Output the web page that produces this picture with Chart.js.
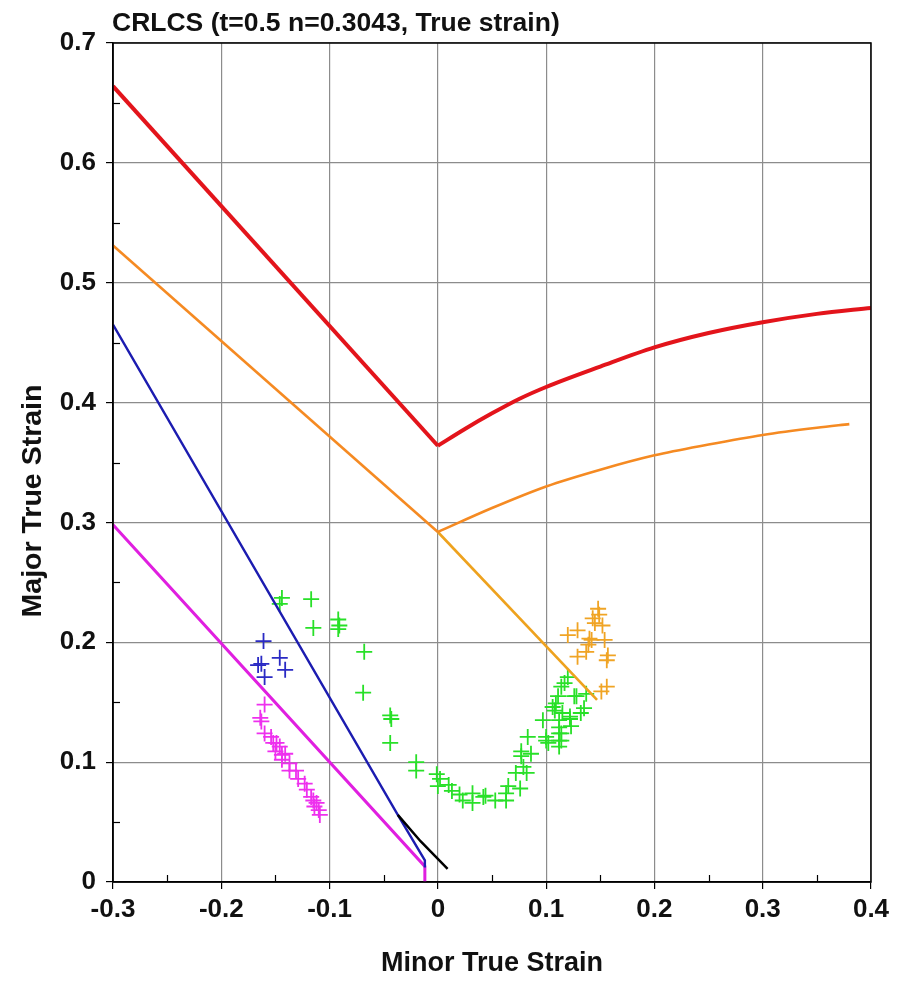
<!DOCTYPE html>
<html>
<head>
<meta charset="utf-8">
<title>CRLCS</title>
<script src="https://cdn.jsdelivr.net/npm/chart.js@4.4.1/dist/chart.umd.min.js"></script>
<style>
  html, body { margin: 0; padding: 0; background: #fff; }
  #wrap { width: 898px; height: 982px; }
</style>
</head>
<body>
<div id="wrap"><canvas id="flcChart" width="898" height="982"></canvas></div>
<script>
// forming limit curve (red) and the offset curve (orange)
const flcX = [-0.3, 0, 0.025, 0.05, 0.075, 0.1, 0.15, 0.2, 0.25, 0.3, 0.35, 0.4];
const flcY = [0.664, 0.364, 0.378, 0.391, 0.403, 0.413, 0.430, 0.446, 0.458, 0.467, 0.474, 0.479];
const safeX = [-0.3, 0, 0.05, 0.1, 0.15, 0.2, 0.25, 0.3, 0.35, 0.38];
const safeY = [0.531, 0.292, 0.312, 0.330, 0.344, 0.356, 0.365, 0.373, 0.379, 0.382];

// straight reference lines
const amberX = [0, 0.147];
const amberY = [0.292, 0.152];
const blueLineX = [-0.3, -0.037, -0.012, -0.012];
const blueLineY = [0.465, 0.056, 0.018, 0.012];
const blackX = [-0.037, -0.016, 0.009];
const blackY = [0.056, 0.034, 0.011];
const magLineX = [-0.3, -0.012, -0.012];
const magLineY = [0.298, 0.013, 0];

// measured points
const greenX = [-0.146, -0.144, -0.117, -0.115, -0.092, -0.091, -0.092, -0.068, -0.069, -0.044, -0.043, -0.044,
  -0.020, -0.020, -0.001, 0.000, 0.002, 0.010, 0.013, 0.020, 0.023, 0.032, 0.032, 0.042, 0.044, 0.053, 0.063,
  0.063, 0.065, 0.076, 0.072, 0.082, 0.077, 0.086, 0.083, 0.079, 0.077, 0.097, 0.100, 0.102, 0.100, 0.106,
  0.109, 0.108, 0.112, 0.112, 0.114, 0.112, 0.111, 0.114, 0.117, 0.120, 0.122, 0.115, 0.123, 0.126, 0.128,
  0.132, 0.135, 0.137, 0.122, 0.114, 0.112, 0.112];
const greenY = [0.232, 0.237, 0.236, 0.212, 0.219, 0.214, 0.211, 0.192, 0.158, 0.139, 0.136, 0.116,
  0.100, 0.093, 0.090, 0.080, 0.086, 0.081, 0.076, 0.073, 0.068, 0.074, 0.066, 0.071, 0.072, 0.068, 0.068,
  0.074, 0.080, 0.078, 0.091, 0.091, 0.105, 0.107, 0.121, 0.096, 0.109, 0.135, 0.118, 0.116, 0.121, 0.146,
  0.149, 0.143, 0.135, 0.124, 0.118, 0.113, 0.155, 0.163, 0.166, 0.171, 0.138, 0.141, 0.130, 0.155, 0.155,
  0.141, 0.145, 0.157, 0.136, 0.124, 0.129, 0.118];
const blueX = [-0.161, -0.163, -0.166, -0.160, -0.146, -0.141];
const blueY = [0.201, 0.182, 0.181, 0.171, 0.187, 0.177];
const magentaX = [-0.160, -0.164, -0.163, -0.160, -0.154, -0.152, -0.149, -0.150, -0.146, -0.144, -0.141,
  -0.144, -0.137, -0.137, -0.131, -0.129, -0.123, -0.121, -0.117, -0.115, -0.112, -0.110, -0.109, -0.114];
const magentaY = [0.148, 0.137, 0.134, 0.124, 0.121, 0.116, 0.116, 0.109, 0.113, 0.106, 0.107,
  0.102, 0.099, 0.093, 0.093, 0.086, 0.082, 0.077, 0.071, 0.068, 0.066, 0.060, 0.056, 0.063];
const orangeX = [0.120, 0.129, 0.148, 0.143, 0.145, 0.149, 0.152, 0.140, 0.139, 0.129, 0.137, 0.154, 0.157,
  0.156, 0.156, 0.151, 0.142];
const orangeY = [0.206, 0.210, 0.228, 0.220, 0.216, 0.223, 0.214, 0.203, 0.198, 0.188, 0.192, 0.202, 0.189,
  0.185, 0.163, 0.159, 0.202];

const xTicks = [-0.3, -0.2, -0.1, 0, 0.1, 0.2, 0.3, 0.4];
const yTicks = [0, 0.1, 0.2, 0.3, 0.4, 0.5, 0.6, 0.7];

const FONT = '"Liberation Sans", Arial, sans-serif';

function pts(xs, ys) {
    return xs.map((x, i) => ({ x: x, y: ys[i] }));
}

function lineSet(xs, ys, color, width, smooth) {
    return {
        data: pts(xs, ys),
        showLine: true,
        borderColor: color,
        borderWidth: width,
        pointRadius: 0,
        fill: false,
        tension: smooth ? 0.4 : 0,
        cubicInterpolationMode: smooth ? 'monotone' : 'default'
    };
}

function crossSet(xs, ys, color) {
    return {
        data: pts(xs, ys),
        showLine: false,
        pointStyle: 'cross',
        pointRadius: 8,
        pointBorderWidth: 1.8,
        borderColor: color,
        backgroundColor: color
    };
}

// title, y axis title, minor ticks and the black frame
const decor = {
    id: 'decor',
    afterDraw(chart) {
        const ctx = chart.ctx;
        const a = chart.chartArea;
        const xs = chart.scales.x, ys = chart.scales.y;
        ctx.save();
        ctx.strokeStyle = '#000';
        ctx.lineWidth = 1.2;
        for (let v = -0.25; v < 0.4; v += 0.1) {
            const px = Math.round(xs.getPixelForValue(v)) + 0.5;
            ctx.beginPath(); ctx.moveTo(px, a.bottom); ctx.lineTo(px, a.bottom - 7); ctx.stroke();
        }
        for (let v = 0.05; v < 0.7; v += 0.1) {
            const py = Math.round(ys.getPixelForValue(v)) + 0.5;
            ctx.beginPath(); ctx.moveTo(a.left, py); ctx.lineTo(a.left + 7, py); ctx.stroke();
        }
        ctx.lineWidth = 1.5;
        ctx.strokeRect(a.left, a.top, a.right - a.left, a.bottom - a.top);

        ctx.fillStyle = '#111';
        ctx.font = 'bold 26.5px ' + FONT;
        ctx.textAlign = 'left';
        ctx.textBaseline = 'alphabetic';
        ctx.fillText('CRLCS (t=0.5 n=0.3043, True strain)', a.left - 1, 31);

        ctx.translate(33, 501);
        ctx.rotate(-Math.PI / 2);
        ctx.font = 'bold 28.5px ' + FONT;
        ctx.textAlign = 'center';
        ctx.textBaseline = 'middle';
        ctx.fillText('Major True Strain', 0, 0);
        ctx.restore();
    }
};

document.addEventListener('DOMContentLoaded', function() {
    const ctx = document.getElementById('flcChart').getContext('2d');
    new Chart(ctx, {
        type: 'scatter',
        data: {
            datasets: [
                lineSet(flcX.slice(0, 2), flcY.slice(0, 2), '#e3141b', 4, false),
                lineSet(flcX.slice(1), flcY.slice(1), '#e3141b', 4, true),
                lineSet(safeX.slice(0, 2), safeY.slice(0, 2), '#f58a22', 2.6, false),
                lineSet(safeX.slice(1), safeY.slice(1), '#f58a22', 2.6, true),
                lineSet(amberX, amberY, '#eea21e', 2.6, false),
                lineSet(blackX, blackY, '#000000', 2.5, false),
                lineSet(blueLineX, blueLineY, '#1c1cb0', 2.4, false),
                lineSet(magLineX, magLineY, '#e01fe0', 3, false),
                crossSet(orangeX, orangeY, '#f0a424'),
                crossSet(blueX, blueY, '#2a2ac4'),
                crossSet(magentaX, magentaY, '#ee30ee'),
                crossSet(greenX, greenY, '#28e028')
            ]
        },
        options: {
            responsive: false,
            animation: false,
            layout: { padding: { top: 43, right: 27, left: 0, bottom: 0 } },
            plugins: {
                legend: { display: false },
                tooltip: { enabled: false }
            },
            scales: {
                x: {
                    type: 'linear',
                    min: -0.3,
                    max: 0.4,
                    afterBuildTicks: s => { s.ticks = xTicks.map(v => ({ value: v })); },
                    afterFit: s => { s.height = 100; },
                    ticks: {
                        color: '#111',
                        padding: 5,
                        font: { family: FONT, size: 26, weight: 'bold' },
                        callback: v => String(+v.toFixed(1))
                    },
                    grid: { color: '#8c8c8c', lineWidth: 1.2, tickLength: 7, tickColor: '#000' },
                    border: { color: '#000', width: 1.5 },
                    title: {
                        display: true,
                        text: 'Minor True Strain',
                        color: '#111',
                        font: { family: FONT, size: 27, weight: 'bold' },
                        padding: { top: 4, bottom: 2 }
                    }
                },
                y: {
                    type: 'linear',
                    min: 0,
                    max: 0.7,
                    afterBuildTicks: s => { s.ticks = yTicks.map(v => ({ value: v })); },
                    afterFit: s => { s.width = 113; },
                    ticks: {
                        color: '#111',
                        padding: 10,
                        font: { family: FONT, size: 26, weight: 'bold' },
                        callback: v => String(+v.toFixed(1))
                    },
                    grid: { color: '#8c8c8c', lineWidth: 1.2, tickLength: 7, tickColor: '#000' },
                    border: { color: '#000', width: 1.5 }
                }
            }
        },
        plugins: [decor]
    });
});
</script>
</body>
</html>
